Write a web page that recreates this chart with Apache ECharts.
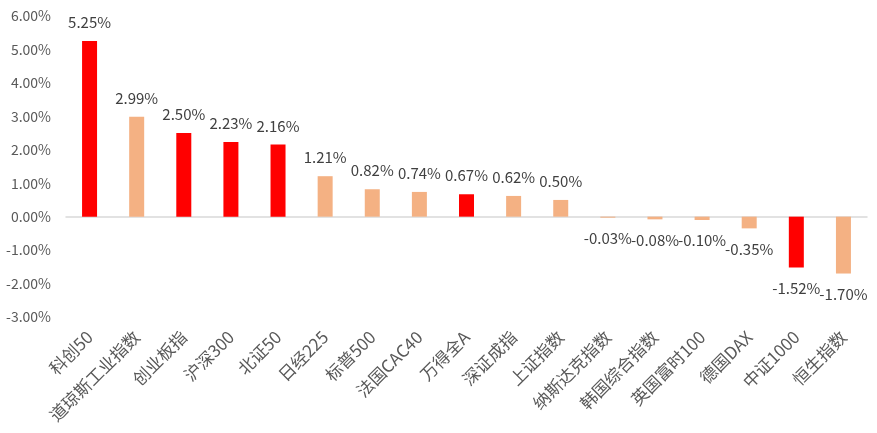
<!DOCTYPE html>
<html>
<head>
<meta charset="utf-8">
<script src="https://cdn.jsdelivr.net/npm/echarts@6/dist/echarts.min.js"></script>
<style>
  html, body { margin: 0; padding: 0; background: #fff; }
  #chart { width: 877px; height: 433px; }
</style>
</head>
<body>
<div id="chart"></div>
<script>
// 指数名称
const categories = ["科创50", "道琼斯工业指数", "创业板指", "沪深300", "北证50", "日经225", "标普500", "法国CAC40", "万得全A", "深证成指", "上证指数", "纳斯达克指数", "韩国综合指数", "英国富时100", "德国DAX", "中证1000", "恒生指数"];
// 涨跌幅 (%)
const changes = [5.25, 2.99, 2.50, 2.23, 2.16, 1.21, 0.82, 0.74, 0.67, 0.62, 0.50, -0.03, -0.08, -0.10, -0.35, -1.52, -1.70];
// 国内主要指数，红色显示
const highlighted = ["科创50", "创业板指", "沪深300", "北证50", "万得全A", "中证1000"];

const textColor = "#595959";
const fontFamily = "'Noto Sans CJK SC', sans-serif";

const chart = echarts.init(document.getElementById("chart"));

const option = {
  animation: false,
  grid: { left: 66, right: 10, top: 16, bottom: 116 },
  xAxis: {
    type: "category",
    data: categories,
    axisLine: { lineStyle: { color: "#d9d9d9", width: 1.5 } },
    axisTick: { show: false },
    axisLabel: {
      interval: 0,
      rotate: 45,
      color: textColor,
      fontSize: 17,
      fontFamily: fontFamily,
      margin: 17
    }
  },
  yAxis: {
    type: "value",
    min: -3,
    max: 6,
    interval: 1,
    axisLine: { show: false },
    axisTick: { show: false },
    splitLine: { show: false },
    axisLabel: {
      color: textColor,
      fontSize: 14,
      fontFamily: fontFamily,
      margin: 15,
      formatter: v => v.toFixed(2) + "%"
    }
  },
  series: [{
    type: "bar",
    barWidth: 15,
    data: changes.map((v, i) => ({
      value: v,
      itemStyle: { color: highlighted.includes(categories[i]) ? "#ff0000" : "#f4b183" },
      label: {
        show: true,
        position: v >= 0 ? "top" : "bottom",
        distance: v >= 0 ? 11 : 13,
        color: "#404040",
        fontSize: 15,
        fontFamily: fontFamily,
        formatter: p => p.value.toFixed(2) + "%"
      }
    }))
  }]
};

chart.setOption(option);
</script>
</body>
</html>
